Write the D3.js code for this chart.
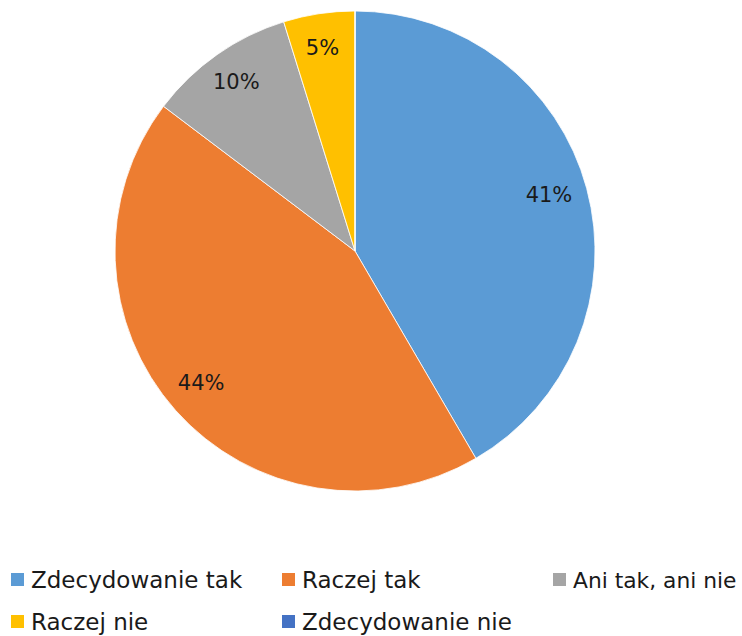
<!DOCTYPE html>
<html>
<head>
<meta charset="utf-8">
<script src="https://cdn.jsdelivr.net/npm/d3@7"></script>
<style>
  body { margin: 0; background: #fff; }
  svg text { font-family: "DejaVu Sans", sans-serif; fill: #1a1a1a; }
</style>
</head>
<body>
<svg id="chart" width="742" height="636"></svg>
<script>
const categories = ['Zdecydowanie tak', 'Raczej tak', 'Ani tak, ani nie', 'Raczej nie', 'Zdecydowanie nie']
const values = [41.6, 43.7, 9.9, 4.8, 0]
const labels = ['41%', '44%', '10%', '5%', '']
const colors = ['#5b9bd5', '#ed7d31', '#a5a5a5', '#ffc000', '#4472c4']

const width = 742
const svg = d3.select('#chart')
const cx = 355, cy = 251, radius = 240, labelR = 203

const pie = d3.pie().sort(null).value(d => d.value)
const arc = d3.arc().innerRadius(0).outerRadius(radius)
const labelArc = d3.arc().innerRadius(labelR).outerRadius(labelR)

const data = categories.map((c, i) => ({name: c, value: values[i], label: labels[i], color: colors[i]}))
const arcs = pie(data)

const g = svg.append('g').attr('transform', `translate(${cx},${cy})`)

g.selectAll('path')
  .data(arcs)
  .join('path')
  .attr('d', arc)
  .attr('fill', d => d.data.color)
  .attr('stroke', '#fff')
  .attr('stroke-width', 0.8)

// etykiety procentowe
g.selectAll('text')
  .data(arcs.filter(d => d.data.value > 0))
  .join('text')
  .attr('transform', d => {
    const [x, y] = labelArc.centroid(d)
    return `translate(${x - 2},${y - 3})`
  })
  .attr('text-anchor', 'middle')
  .attr('dy', '0.35em')
  .attr('font-size', 21)
  .text(d => d.data.label)

// legenda
const legendCols = [11, 282, 553]
const legendRows = [580, 622]
const fontSize = 23
const legend = svg.append('g')
  .selectAll('g')
  .data(data)
  .join('g')
  .attr('transform', (d, i) => `translate(${legendCols[i % 3]},${legendRows[Math.floor(i / 3)]})`)

legend.append('rect')
  .attr('x', 0)
  .attr('y', -7)
  .attr('width', 13)
  .attr('height', 13)
  .attr('fill', d => d.color)

legend.append('text')
  .attr('x', 20)
  .attr('y', 8)
  .attr('font-size', fontSize)
  .text(d => d.name)
  .each(function(d, i) {
    // nie wychodzić poza prawą krawędź – zmniejsz czcionkę
    const maxW = width - 5 - legendCols[i % 3] - 20
    const w = this.getComputedTextLength()
    if (w > maxW) d3.select(this).attr('font-size', Math.floor(fontSize * maxW / w * 10) / 10)
  })
</script>
</body>
</html>
